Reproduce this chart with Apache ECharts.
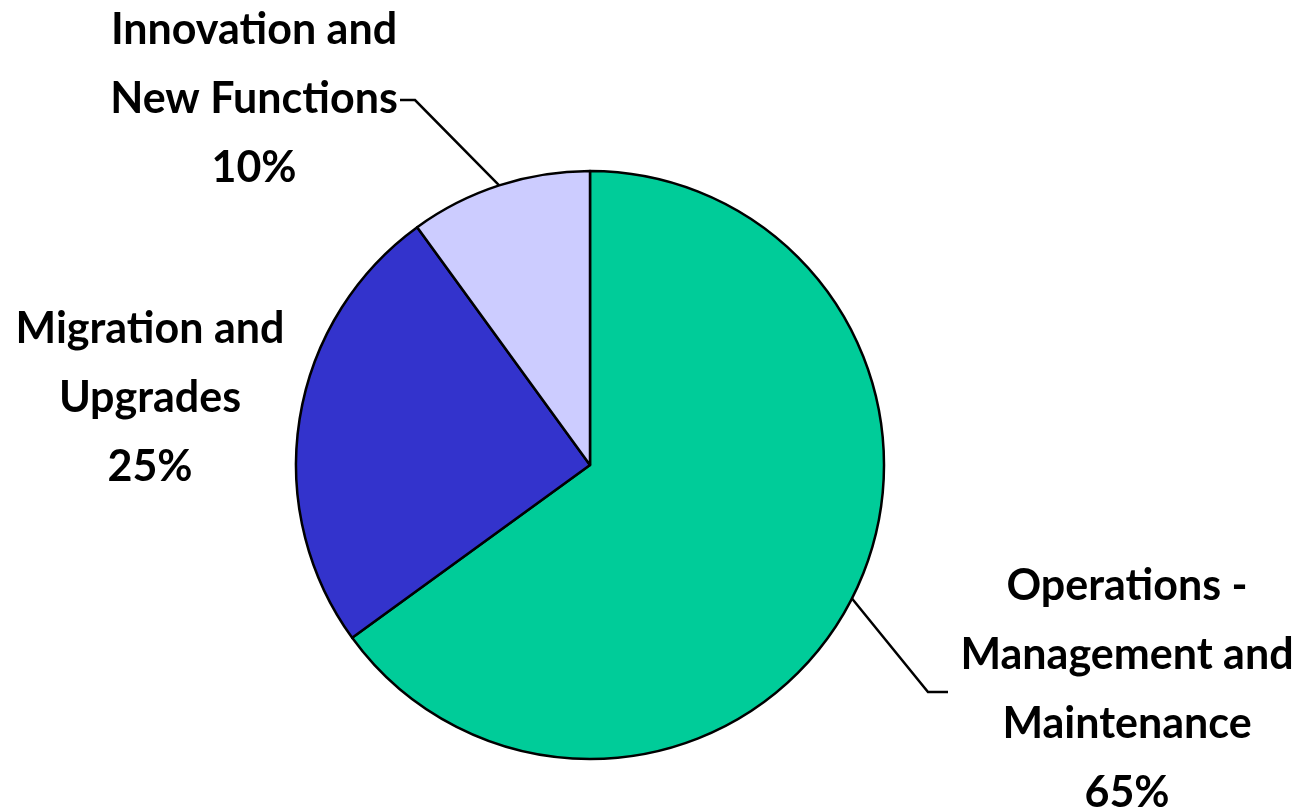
<!DOCTYPE html>
<html><head><meta charset="utf-8">
<script src="https://cdn.jsdelivr.net/npm/echarts@6/dist/echarts.min.js"></script>
<style>html,body{margin:0;padding:0;background:#fff}#c{width:1306px;height:811px}</style>
</head><body><div id="c"></div>
<script>
const categories = ['Operations -\nManagement and\nMaintenance', 'Migration and\nUpgrades', 'Innovation and\nNew Functions'];
const values = [65, 25, 10];
const colors = ['#00CC99', '#3333CC', '#CCCCFF'];

// label placement (layout only)
const labelPos = [
  {x: 1127, y: 690, line: [[928, 692], [948, 692]]},
  {x: 150, y: 398, line: null},
  {x: 254, y: 99, line: [[415, 100], [400, 100]]}
];

const chart = echarts.init(document.getElementById('c'), null, {renderer: 'canvas'});
chart.setOption({
  backgroundColor: '#fff',
  animation: false,
  series: [{
    type: 'pie',
    center: [590, 465],
    radius: 294,
    startAngle: 90,
    clockwise: true,
    data: categories.map((n, i) => ({
      name: n, value: values[i],
      itemStyle: {color: colors[i]},
      labelLine: {show: labelPos[i].line !== null}
    })),
    itemStyle: {borderColor: '#000', borderWidth: 2.5},
    label: {
      show: true,
      position: 'outside',
      formatter: p => p.name + '\n' + p.value + '%',
      fontFamily: 'Lato',
      fontWeight: 'bold',
      fontSize: 43,
      lineHeight: 69,
      color: '#000',
      align: 'center',
      overflow: 'none',
      width: 400
    },
    labelLine: {show: true, lineStyle: {color: '#000', width: 2.5}},
    labelLayout: function (params) {
      const lp = labelPos[params.dataIndex];
      const res = {x: lp.x, y: lp.y, align: 'center', verticalAlign: 'middle'};
      if (lp.line && params.labelLinePoints) {
        res.labelLinePoints = [params.labelLinePoints[0], lp.line[0], lp.line[1]];
      }
      return res;
    },
    emphasis: {disabled: true}
  }]
});
</script></body></html>
